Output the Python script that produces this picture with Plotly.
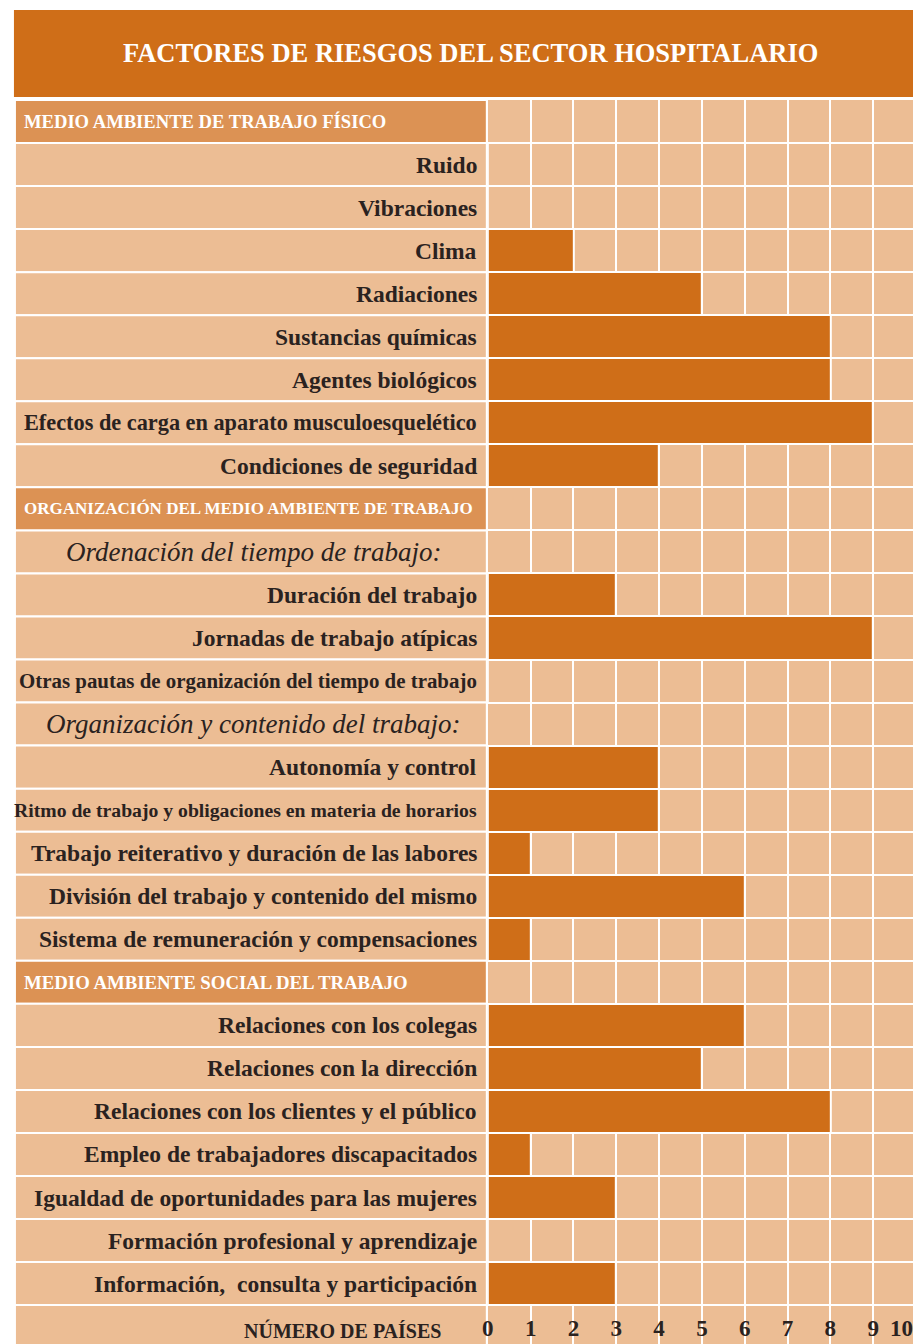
import plotly.graph_objects as go

# ---------------- data ----------------
title_text = "FACTORES DE RIESGOS DEL SECTOR HOSPITALARIO"
row_labels = [
    "MEDIO AMBIENTE DE TRABAJO FÍSICO",
    "Ruido",
    "Vibraciones",
    "Clima",
    "Radiaciones",
    "Sustancias químicas",
    "Agentes biológicos",
    "Efectos de carga en aparato musculoesquelético",
    "Condiciones de seguridad",
    "ORGANIZACIÓN DEL MEDIO AMBIENTE DE TRABAJO",
    "Ordenación del tiempo de trabajo:",
    "Duración del trabajo",
    "Jornadas de trabajo atípicas",
    "Otras pautas de organización del tiempo de trabajo",
    "Organización y contenido del trabajo:",
    "Autonomía y control",
    "Ritmo de trabajo y obligaciones en materia de horarios",
    "Trabajo reiterativo y duración de las labores",
    "División del trabajo y contenido del mismo",
    "Sistema de remuneración y compensaciones",
    "MEDIO AMBIENTE SOCIAL DEL TRABAJO",
    "Relaciones con los colegas",
    "Relaciones con la dirección",
    "Relaciones con los clientes y el público",
    "Empleo de trabajadores discapacitados",
    "Igualdad de oportunidades para las mujeres",
    "Formación profesional y aprendizaje",
    "Información,  consulta y participación",
]
row_kinds = [
    "header", "item", "item", "item", "item", "item", "item", "item", "item",
    "header", "sub", "item", "item", "item", "sub", "item", "item", "item",
    "item", "item", "header", "item", "item", "item", "item", "item", "item",
    "item",
]
row_values = [
    None, 0, 0, 2, 5, 8, 8, 9, 4,
    None, None, 3, 9, 0, None, 4, 4, 1, 6, 1,
    None, 6, 5, 8, 1, 3, 0, 3,
]
axis_title = "NÚMERO DE PAÍSES"
tick_vals = [0, 1, 2, 3, 4, 5, 6, 7, 8, 9, 9.66]
tick_text = ["0", "1", "2", "3", "4", "5", "6", "7", "8", "9", "10"]

# ---------------- style ----------------
W, H = 913, 1344
ORANGE = "#CF6E18"
HEADER = "#DC9254"
PEACH = "#ECBD94"
TEXT = "#2A2220"
FONT = "Liberation Serif"

ITEM_SIZE = 23.5
SUB_SIZE = 27
size_override = {
    "MEDIO AMBIENTE DE TRABAJO FÍSICO": 18.6,
    "ORGANIZACIÓN DEL MEDIO AMBIENTE DE TRABAJO": 17.0,
    "MEDIO AMBIENTE SOCIAL DEL TRABAJO": 18.8,
    "Efectos de carga en aparato musculoesquelético": 22.3,
    "Otras pautas de organización del tiempo de trabajo": 20.9,
    "Ritmo de trabajo y obligaciones en materia de horarios": 19.7,
}

def px(p):
    return p / W

def py(p):
    return 1 - p / H

n_rows = len(row_labels)
ys = list(range(n_rows))
axis_row = n_rows  # extra row holding the axis labels

unit_px = 43.1
plot_left, plot_top = 485, 100
row_px = 43.04
x_max = (W - plot_left) / unit_px
y_bottom = -0.5 + (H - plot_top) / row_px

fig = go.Figure()

bar_x = [v if k == "item" else None for v, k in zip(row_values, row_kinds)]
fig.add_trace(go.Bar(
    x=bar_x, y=ys, orientation="h", width=1,
    marker=dict(color=ORANGE, line=dict(color="white", width=2)),
    hoverinfo="skip", showlegend=False,
))
fig.add_trace(go.Scatter(x=[], y=[], xaxis="x2", yaxis="y", showlegend=False))

shapes = []
# title bar
shapes.append(dict(type="rect", xref="paper", yref="paper",
                   x0=px(8), x1=px(W), y0=py(97), y1=py(10),
                   fillcolor=ORANGE, line=dict(width=0), layer="below"))
# label column cells
for i, k in enumerate(row_kinds + ["axis"]):
    shapes.append(dict(type="rect", xref="paper", yref="y",
                       x0=px(9), x1=px(484), y0=i - 0.5, y1=i + 0.5,
                       fillcolor=HEADER if k == "header" else PEACH,
                       line=dict(color="white", width=2), layer="below"))

annotations = [dict(text=title_text, xref="paper", yref="paper",
                    x=px(468), y=py(53), xanchor="center", yanchor="middle",
                    showarrow=False,
                    font=dict(family=FONT, size=26.5, color="white", weight=700))]
for i, (lab, k) in enumerate(zip(row_labels, row_kinds)):
    if k == "header":
        annotations.append(dict(text=lab, xref="paper", yref="y", x=px(16), y=i,
                                xanchor="left", yanchor="middle", showarrow=False,
                                font=dict(family=FONT, size=size_override.get(lab, 18),
                                          color="white", weight=700)))
    elif k == "sub":
        annotations.append(dict(text=lab, xref="paper", yref="y", x=px(249), y=i,
                                xanchor="center", yanchor="middle", showarrow=False,
                                font=dict(family=FONT, size=SUB_SIZE, color=TEXT,
                                          style="italic")))
    else:
        annotations.append(dict(text=lab, xref="paper", yref="y", x=px(476), y=i,
                                xanchor="right", yanchor="middle", showarrow=False,
                                font=dict(family=FONT, size=size_override.get(lab, ITEM_SIZE),
                                          color=TEXT, weight=700)))
annotations.append(dict(text=axis_title, xref="paper", yref="y", x=px(440), y=axis_row,
                        xanchor="right", yanchor="middle", showarrow=False, yshift=-4,
                        font=dict(family=FONT, size=20, color=TEXT, weight=700)))

fig.update_layout(
    width=W, height=H, autosize=False,
    margin=dict(l=0, r=0, t=0, b=0),
    paper_bgcolor="white", plot_bgcolor=PEACH,
    bargap=0,
    shapes=shapes, annotations=annotations,
    xaxis=dict(domain=[px(plot_left), 1], range=[0, x_max], dtick=1, tick0=0,
               showgrid=True, gridcolor="white", gridwidth=2,
               zeroline=False, showticklabels=False, ticks="", showline=False,
               fixedrange=True),
    xaxis2=dict(overlaying="x", anchor="y", side="bottom", range=[0, x_max],
                tickmode="array", tickvals=tick_vals, ticktext=tick_text,
                ticklabelposition="inside", ticklabeloverflow="allow",
                ticks="", showgrid=False, zeroline=False,
                tickfont=dict(family=FONT, size=23, color=TEXT, weight=700),
                fixedrange=True),
    yaxis=dict(domain=[0, py(plot_top)], range=[y_bottom, -0.5],
               tickmode="array", tickvals=[k - 0.5 for k in range(n_rows + 2)],
               showgrid=True, gridcolor="white", gridwidth=2,
               showticklabels=False, ticks="", zeroline=False, fixedrange=True),
)

fig.write_html("out.html", config={"displayModeBar": False},
               post_script="document.body.style.margin='0px';")
